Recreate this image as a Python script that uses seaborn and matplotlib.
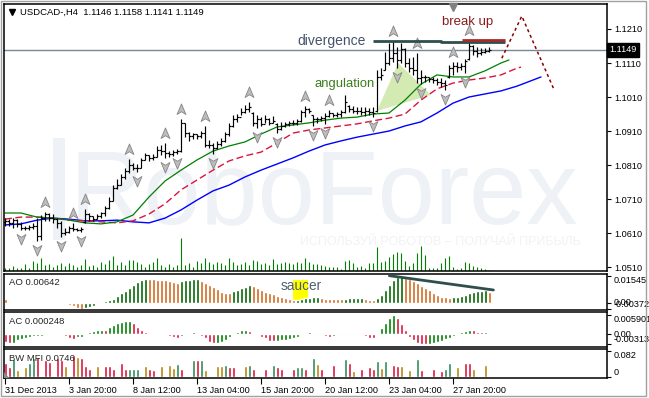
import numpy as np
import matplotlib
matplotlib.use('Agg')
import matplotlib.pyplot as plt
import matplotlib.transforms as mtransforms
from matplotlib.path import Path
from matplotlib.patches import Polygon, Rectangle
import seaborn as sns

# ---- USDCAD H4 price bars ----
bar_open = [
    1.0642, 1.0645, 1.0640, 1.0648, 1.0636, 1.0625, 1.0626, 1.0628, 1.0632, 1.0600,
    1.0655, 1.0665, 1.0655, 1.0650, 1.0640, 1.0610, 1.0612, 1.0625, 1.0622, 1.0618,
    1.0642, 1.0665, 1.0660, 1.0652, 1.0660, 1.0668, 1.0685, 1.0705, 1.0742, 1.0752,
    1.0775, 1.0792, 1.0810, 1.0800, 1.0800, 1.0825, 1.0840, 1.0830, 1.0835, 1.0855,
    1.0850, 1.0845, 1.0842, 1.0848, 1.0850, 1.0935, 1.0905, 1.0895, 1.0900, 1.0895,
    1.0905, 1.0870, 1.0868, 1.0860, 1.0872, 1.0880, 1.0900, 1.0925, 1.0945, 1.0952,
    1.0965, 1.0975, 1.0962, 1.0935, 1.0945, 1.0930, 1.0945, 1.0935, 1.0932, 1.0915,
    1.0925, 1.0930, 1.0935, 1.0935, 1.0940, 1.0965, 1.0975, 1.0956, 1.0945, 1.0945,
    1.0948, 1.0955, 1.0962, 1.0958, 1.0960, 1.0966, 1.0985, 1.0975, 1.0970, 1.0968,
    1.0965, 1.0970, 1.0965, 1.0968, 1.1070, 1.1090, 1.1110, 1.1125, 1.1140, 1.1120,
    1.1150, 1.1110, 1.1095, 1.1090, 1.1065, 1.1070, 1.1068, 1.1062, 1.1060, 1.1055,
    1.1050, 1.1068, 1.1095, 1.1100, 1.1098, 1.1100, 1.1122, 1.1160, 1.1145, 1.1140,
    1.1142, 1.1146]
bar_high = [
    1.0655, 1.0652, 1.0655, 1.0650, 1.0642, 1.0632, 1.0635, 1.0640, 1.0655, 1.0662,
    1.0672, 1.0670, 1.0665, 1.0655, 1.0645, 1.0625, 1.0632, 1.0640, 1.0625, 1.0628,
    1.0680, 1.0668, 1.0660, 1.0665, 1.0672, 1.0690, 1.0715, 1.0750, 1.0770, 1.0785,
    1.0800, 1.0828, 1.0815, 1.0812, 1.0830, 1.0845, 1.0840, 1.0842, 1.0865, 1.0868,
    1.0874, 1.0850, 1.0855, 1.0857, 1.0946, 1.0935, 1.0908, 1.0905, 1.0902, 1.0910,
    1.0925, 1.0885, 1.0875, 1.0880, 1.0890, 1.0908, 1.0935, 1.0958, 1.0960, 1.0978,
    1.0987, 1.0995, 1.0966, 1.0958, 1.0952, 1.0958, 1.0948, 1.0955, 1.0934, 1.0937,
    1.0937, 1.0940, 1.0942, 1.0945, 1.0972, 1.0985, 1.0978, 1.0958, 1.0952, 1.0955,
    1.0963, 1.0972, 1.0963, 1.0965, 1.0972, 1.1016, 1.0987, 1.0984, 1.0981, 1.0981,
    1.0981, 1.0978, 1.0981, 1.1089, 1.1095, 1.1142, 1.1169, 1.1175, 1.1157, 1.1169,
    1.1154, 1.1125, 1.1128, 1.1140, 1.1089, 1.1075, 1.1068, 1.1068, 1.1065, 1.1065,
    1.1060, 1.1104, 1.1113, 1.1113, 1.1110, 1.1122, 1.1178, 1.1163, 1.1157, 1.1154,
    1.1154, 1.1158]
bar_low = [
    1.0630, 1.0632, 1.0625, 1.0628, 1.0618, 1.0620, 1.0620, 1.0622, 1.0588, 1.0590,
    1.0645, 1.0645, 1.0640, 1.0625, 1.0598, 1.0605, 1.0610, 1.0615, 1.0615, 1.0612,
    1.0640, 1.0645, 1.0645, 1.0650, 1.0655, 1.0660, 1.0680, 1.0705, 1.0740, 1.0750,
    1.0770, 1.0788, 1.0795, 1.0790, 1.0800, 1.0825, 1.0822, 1.0825, 1.0834, 1.0840,
    1.0832, 1.0835, 1.0838, 1.0842, 1.0848, 1.0892, 1.0880, 1.0888, 1.0888, 1.0890,
    1.0862, 1.0860, 1.0842, 1.0858, 1.0866, 1.0878, 1.0895, 1.0922, 1.0938, 1.0957,
    1.0963, 1.0966, 1.0925, 1.0920, 1.0925, 1.0935, 1.0928, 1.0935, 1.0903, 1.0913,
    1.0922, 1.0925, 1.0928, 1.0928, 1.0937, 1.0952, 1.0963, 1.0925, 1.0935, 1.0940,
    1.0930, 1.0950, 1.0950, 1.0950, 1.0950, 1.0963, 1.0966, 1.0963, 1.0960, 1.0958,
    1.0955, 1.0957, 1.0950, 1.0966, 1.1060, 1.1089, 1.1104, 1.1113, 1.1095, 1.1110,
    1.1098, 1.1083, 1.1075, 1.1051, 1.1048, 1.1055, 1.1055, 1.1051, 1.1045, 1.1040,
    1.1031, 1.1066, 1.1075, 1.1083, 1.1088, 1.1080, 1.1120, 1.1134, 1.1128, 1.1134,
    1.1139, 1.1141]
bar_close = [
    1.0645, 1.0640, 1.0648, 1.0636, 1.0625, 1.0626, 1.0628, 1.0632, 1.0600, 1.0655,
    1.0665, 1.0655, 1.0650, 1.0640, 1.0610, 1.0612, 1.0625, 1.0622, 1.0618, 1.0622,
    1.0665, 1.0660, 1.0652, 1.0660, 1.0668, 1.0685, 1.0705, 1.0742, 1.0752, 1.0775,
    1.0792, 1.0810, 1.0800, 1.0800, 1.0825, 1.0840, 1.0830, 1.0835, 1.0855, 1.0850,
    1.0845, 1.0842, 1.0848, 1.0850, 1.0935, 1.0905, 1.0895, 1.0900, 1.0895, 1.0905,
    1.0870, 1.0868, 1.0860, 1.0872, 1.0880, 1.0900, 1.0925, 1.0945, 1.0952, 1.0965,
    1.0975, 1.0980, 1.0935, 1.0945, 1.0930, 1.0945, 1.0935, 1.0940, 1.0915, 1.0925,
    1.0930, 1.0935, 1.0935, 1.0940, 1.0965, 1.0975, 1.0970, 1.0945, 1.0945, 1.0948,
    1.0955, 1.0962, 1.0958, 1.0960, 1.0966, 1.0995, 1.0975, 1.0970, 1.0968, 1.0965,
    1.0970, 1.0965, 1.0962, 1.1070, 1.1075, 1.1110, 1.1125, 1.1140, 1.1120, 1.1150,
    1.1110, 1.1095, 1.1090, 1.1065, 1.1070, 1.1068, 1.1062, 1.1060, 1.1055, 1.1050,
    1.1045, 1.1095, 1.1100, 1.1098, 1.1100, 1.1115, 1.1160, 1.1145, 1.1140, 1.1142,
    1.1145, 1.1149]
tick_volume = [
    400, 400, 750, 450, 400, 1050, 400, 1500, 1150, 1900,
    900, 1050, 550, 900, 1250, 750, 1150, 900, 650, 900,
    1750, 750, 900, 650, 1400, 1050, 1650, 2250, 900, 1400,
    900, 1650, 1650, 1400, 1050, 550, 1050, 1400, 1900, 900,
    650, 1050, 650, 900, 4900, 900, 1150, 650, 1550, 1150,
    1900, 1400, 1050, 1400, 1250, 900, 1900, 1400, 900, 1050,
    1400, 900, 1650, 1550, 1050, 1250, 900, 1800, 1050, 1200,
    1400, 1250, 1050, 1400, 1250, 1900, 1400, 1050, 1050, 900,
    750, 550, 650, 550, 250, 1550, 1650, 1250, 550, 750,
    400, 1150, 1250, 3550, 1400, 1550, 2150, 2550, 2900, 2650,
    1550, 750, 1250, 2650, 3750, 2400, 400, 400, 400, 1250,
    1900, 2300, 550, 250, 400, 1400, 1150, 750, 550, 400,
    250, 150]

# fractal bars
fractal_up = [10, 17, 20, 31, 40, 44, 50, 61, 75, 81, 97, 103, 112, 116]
fractal_down = [4, 8, 14, 19, 33, 40, 43, 52, 63, 68, 77, 80, 92, 98, 104, 110, 115]

# Alligator, read every 4 bars (lines run past the last bar)
jaw_idx = list(range(0, 133, 4)) + [134]
jaw = [1.0634, 1.0637, 1.0648, 1.0654, 1.0651, 1.0646, 1.0646, 1.0648, 1.0643, 1.0640,
       1.0654, 1.0678, 1.0707, 1.0734, 1.0751, 1.0775, 1.0795, 1.0813, 1.0831, 1.0851,
       1.0869, 1.0881, 1.0892, 1.0901, 1.0910, 1.0925, 1.0937, 1.0963, 1.0992, 1.1010,
       1.1019, 1.1028, 1.1042, 1.1060, 1.1069]
teeth_idx = list(range(0, 129, 4)) + [129]
teeth = [1.0651, 1.0657, 1.0657, 1.0654, 1.0648, 1.0646, 1.0643, 1.0640, 1.0646, 1.0666,
         1.0696, 1.0737, 1.0766, 1.0795, 1.0822, 1.0837, 1.0848, 1.0875, 1.0904, 1.0913,
         1.0919, 1.0925, 1.0931, 1.0940, 1.0948, 1.0960, 1.1001, 1.1034, 1.1051, 1.1060,
         1.1066, 1.1075, 1.1095, 1.1098]
lips_idx = list(range(0, 125, 4)) + [126]
lips = [1.0669, 1.0669, 1.0657, 1.0654, 1.0648, 1.0640, 1.0637, 1.0643, 1.0663, 1.0716,
        1.0763, 1.0795, 1.0825, 1.0851, 1.0866, 1.0878, 1.0901, 1.0922, 1.0928, 1.0934,
        1.0942, 1.0948, 1.0951, 1.0960, 1.0963, 1.1001, 1.1048, 1.1075, 1.1069, 1.1069,
        1.1087, 1.1110, 1.1119]

# Awesome Oscillator (x 0.001)
ao = [2.32, 0.58, -0.29, -0.41, -0.52, -0.58, -0.69, -0.75, -0.81, -0.87,
      -0.81, -0.75, -0.64, -0.58, -0.46, -0.87, -1.45, -2.03, -2.90, -3.72,
      -3.20, -2.32, -1.74, -0.87, 0.29, 0.87, 1.45, 2.32, 3.76, 5.50,
      6.95, 8.69, 10.42, 12.16, 13.14, 13.55, 13.49, 13.43, 13.32, 13.20,
      13.03, 12.74, 12.16, 11.58, 12.45, 13.03, 13.32, 13.49, 13.72, 12.74,
      11.17, 10.25, 9.26, 7.93, 6.37, 5.79, 5.62, 6.95, 7.35, 8.28,
      9.26, 10.42, 9.67, 8.28, 7.35, 6.37, 5.38, 5.04, 3.88, 3.07,
      2.49, 1.91, 1.56, 1.62, 1.91, 2.49, 2.90, 3.07, 3.18, 2.49,
      2.26, 2.14, 2.08, 2.03, 1.97, 2.32, 2.43, 2.49, 2.55, 2.61,
      2.03, 1.74, 1.62, 2.49, 4.46, 7.35, 10.25, 13.14, 15.05, 15.45,
      14.07, 13.49, 12.74, 11.17, 9.67, 8.28, 7.35, 5.38, 4.46, 3.47,
      3.07, 2.49, 3.07, 3.47, 3.88, 4.46, 5.79, 6.37, 6.66, 6.95,
      7.53, 6.42]

# Accelerator Oscillator (x 0.001)
ac = [-2.39, -2.89, -2.80, -1.86, -1.55, -1.15, -0.84, -0.62, -0.59, -0.53,
      -0.31, -0.09, 0.16, 0.09, 0.31, -0.62, -1.15, -1.65, -1.02, -0.84,
      -0.31, 0.53, 1.02, 1.24, 1.34, 1.15, 2.08, 2.80, 3.32, 3.82,
      4.04, 4.10, 3.32, 2.27, 1.24, 0.71, 0.22, 0.09, -0.09, 0.06,
      -0.40, -0.62, -1.02, -1.34, -0.62, -0.22, 0.22, 0.53, 0.22, -0.62,
      -1.34, -2.39, -2.89, -2.80, -2.58, -1.86, -0.84, -0.09, 0.53, 1.24,
      1.30, 0.93, 0.40, -0.40, -0.84, -1.34, -2.08, -2.17, -2.11, -1.86,
      -1.80, -1.55, -1.34, -0.84, -0.40, 0.40, 0.53, 0.22, 0.16, -0.31,
      -0.62, -1.02, -0.62, -0.40, -0.22, 0.22, 0.25, 0.28, 0.16, -0.31,
      -0.62, -1.15, -1.18, -0.09, 1.77, 3.51, 4.88, 5.901, 4.88, 3.11,
      1.24, -0.84, -1.86, -2.70, -3.11, -3.13, -3.04, -2.89, -2.39, -2.08,
      -1.65, -1.34, -0.62, 0.22, 0.53, 0.93, 1.24, 1.18, 0.71, 0.62,
      0.68, 0.248]

# BW Market Facilitation Index (x 0.001) and bar state
mfi = [44.5, 31.8, 57.2, 22.2, 25.4, 31.8, 44.5, 60.4, 63.6, 79.5,
       54.0, 47.7, 79.5, 60.4, 54.0, 35.0, 79.5, 69.9, 63.6, 60.4,
       35.0, 25.4, 54.0, 35.0, 54.0, 35.0, 35.0, 25.4, 54.0, 44.5,
       25.4, 25.4, 25.4, 25.4, 35.0, 35.0, 25.4, 22.2, 60.4, 35.0,
       60.4, 38.1, 28.6, 41.3, 25.4, 25.4, 41.3, 54.0, 54.0, 54.0,
       22.2, 50.8, 57.2, 35.0, 35.0, 38.1, 31.8, 31.8, 25.4, 54.0,
       35.0, 38.1, 25.4, 35.0, 47.7, 25.4, 25.4, 38.1, 31.8, 25.4,
       44.5, 54.0, 25.4, 31.8, 31.8, 25.4, 25.4, 60.4, 41.3, 25.4,
       31.8, 54.0, 38.1, 38.1, 47.7, 57.2, 44.5, 19.1, 35.0, 25.4,
       47.7, 31.8, 25.4, 50.8, 28.6, 50.8, 63.6, 38.1, 35.0, 35.0,
       44.5, 22.2, 47.7, 57.2, 22.2, 19.1, 35.0, 25.4, 47.7, 19.1,
       25.4, 44.5, 47.7, 31.8, 82.0, 44.5, 44.5, 25.4, 31.8, 41.3,
       38.1, 74.6]
mfi_state = list(
    "CCGYBYGGCBCCBCCYBCYCCCBYBCCCBCCGGGBYCCBY"
    "BYYGCBBGCGYBBYYGCCBBYGCBBCBGCCBBCGGCBGYC"
    "BBCBBGCYBCBCCGYGBCCYBYBGCBBCBCGGBYBCCYBB"
    "YB")

xtick_pos = [0, 16, 32, 48, 64, 80, 96, 112]
xtick_labels = ['31 Dec 2013', '3 Jan 20:00', '8 Jan 12:00', '13 Jan 04:00',
                '15 Jan 20:00', '20 Jan 12:00', '23 Jan 04:00', '27 Jan 20:00']
price_ticks = [1.0510, 1.0610, 1.0710, 1.0810, 1.0910, 1.1010, 1.1110, 1.1210]
last_price = 1.1149

# analyst drawings
divergence_line = ([92, 109, 109, 125], [1.1174, 1.1174, 1.1171, 1.1171])
breakup_line = ([114.2, 125], [1.1179, 1.1179])
forecast_path = ([124.2, 129.2, 137.1], [1.1124, 1.1248, 1.1036])
angulation_tri = [(93, 1.0969), (98.3, 1.1110), (106.5, 1.1016)]
ao_divergence = ([96.1, 122.1], [0.01563, 0.00735])

# ---------------------------------------------------------------------------
sns.set_theme(style="white")
plt.rcParams['font.family'] = ['Liberation Sans', 'DejaVu Sans']

W, H = 649, 398


def frame(left, top, right, bottom):
    return [left / W, 1 - bottom / H, (right - left) / W, (bottom - top) / H]


fig = plt.figure(figsize=(W / 100, H / 100), dpi=100)
fig.patch.set_facecolor('white')

vol_ax = fig.add_axes(frame(4, 4, 607, 271), zorder=0)
ax = fig.add_axes(frame(4, 4, 607, 271), zorder=1)
ax.patch.set_visible(False)
ax_ao = fig.add_axes(frame(4, 273.5, 607, 309.5))
ax_ac = fig.add_axes(frame(4, 311.5, 607, 346.5))
ax_mfi = fig.add_axes(frame(4, 348.5, 607, 378))

XLIM = (-0.25, 150.5)
idx = np.arange(len(bar_close))
TICK_FS = 6.6
WM_COLOR = '#EEF1F5'

# volumes + watermark behind the price chart
vol_ax.axis('off')
vol_ax.set_xlim(*XLIM)
vol_ax.set_ylim(0, 40050)
vol_ax.vlines(idx, 0, tick_volume, color='#008000', lw=0.8)
vol_ax.add_patch(Rectangle((0.081, 0.115), 0.02, 0.385, transform=vol_ax.transAxes,
                           facecolor=WM_COLOR, edgecolor='none'))
vol_ax.text(0.109, 0.18, 'RoboForex', transform=vol_ax.transAxes, fontsize=74,
            color=WM_COLOR, ha='left', va='baseline')
vol_ax.text(0.491, 0.109, 'ИСПОЛЬЗУЙ РОБОТОВ – ПОЛУЧАЙ ПРИБЫЛЬ',
            transform=vol_ax.transAxes, fontsize=9, color='#F0F2F5',
            ha='left', va='center')

# main chart
ax.set_xlim(*XLIM)
ax.set_ylim(1.04985, 1.12835)
ax.add_patch(Polygon(angulation_tri, closed=True, facecolor='#D3EAB2',
                     edgecolor='none', zorder=1))
ax.axhline(last_price, color='#7A8896', lw=1, zorder=1.5)

sns.lineplot(x=jaw_idx, y=jaw, ax=ax, color='#0000FF', linewidth=1,
             errorbar=None, zorder=2)
sns.lineplot(x=teeth_idx, y=teeth, ax=ax, color='#DC143C', linewidth=1,
             linestyle=(0, (5, 2.5)), errorbar=None, zorder=2)
sns.lineplot(x=lips_idx, y=lips, ax=ax, color='#008000', linewidth=0.9,
             errorbar=None, zorder=2)

ax.vlines(idx, bar_low, bar_high, color='black', lw=0.85, zorder=4)
ax.hlines(bar_open, idx - 0.4, idx, color='black', lw=0.85, zorder=4)
ax.hlines(bar_close, idx, idx + 0.4, color='black', lw=0.85, zorder=4)

up_arrow = Path([(0, 1), (0.8, -0.9), (0, -0.4), (-0.8, -0.9), (0, 1)],
                [Path.MOVETO, Path.LINETO, Path.LINETO, Path.LINETO, Path.CLOSEPOLY])
down_arrow = Path([(0, -1), (0.8, 0.9), (0, 0.4), (-0.8, 0.9), (0, -1)],
                  [Path.MOVETO, Path.LINETO, Path.LINETO, Path.LINETO, Path.CLOSEPOLY])
up_tr = mtransforms.offset_copy(ax.transData, fig=fig, y=10, units='dots')
down_tr = mtransforms.offset_copy(ax.transData, fig=fig, y=-9, units='dots')
ax.plot(fractal_up, [bar_high[i] for i in fractal_up], ls='none', marker=up_arrow,
        ms=8, mfc='#BDBDBD', mec='#858585', mew=0.6, transform=up_tr, zorder=5)
ax.plot(fractal_down, [bar_low[i] for i in fractal_down], ls='none', marker=down_arrow,
        ms=8, mfc='#BDBDBD', mec='#858585', mew=0.6, transform=down_tr, zorder=5)

ax.plot(*divergence_line, color='#2F4F4F', lw=2, zorder=6, solid_capstyle='butt')
ax.plot(*breakup_line, color='#A52A2A', lw=2, zorder=6, solid_capstyle='butt')
ax.plot(*forecast_path, color='#8B0000', lw=1.1, ls=(0, (2, 2)), zorder=6, clip_on=False)
ax.text(81.75, 1.1175, 'divergence', color='#44546A', fontsize=10,
        ha='center', va='center', zorder=6)
ax.text(115.75, 1.1231, 'break up', color='#8B1A1A', fontsize=9.5,
        ha='center', va='center', zorder=6)
ax.text(85.0, 1.1048, 'angulation', color='#3A7F1A', fontsize=9.4,
        ha='center', va='center', zorder=6)

ax.plot([0.0133], [0.970], marker='v', ms=4, color='black', transform=ax.transAxes)
ax.text(0.0265, 0.970, 'USDCAD-,H4  1.1146 1.1158 1.1141 1.1149',
        transform=ax.transAxes, fontsize=6.8, color='black', ha='left', va='center')
ax.plot([0.7446], [0.9906], marker='v', ms=6, color='#808080',
        transform=ax.transAxes, clip_on=False, zorder=7)

ax.yaxis.tick_right()
ax.set_yticks(price_ticks, [f'{p:.4f}' for p in price_ticks])
ax.set_xticks([])
price_tr = mtransforms.blended_transform_factory(ax.transAxes, ax.transData)
ax.text(1.0035, last_price, f'{last_price:.4f}', transform=price_tr, color='white',
        fontsize=TICK_FS, ha='left', va='center', zorder=8,
        bbox=dict(boxstyle='square,pad=0.25', facecolor='black', edgecolor='black'))

# AO
ao_vals = np.array(ao) * 1e-3
ao_colors = ['#006400' if i > 0 and ao_vals[i] > ao_vals[i - 1] else '#D2691E'
             for i in range(len(ao_vals))]
ax_ao.set_xlim(*XLIM)
ax_ao.set_ylim(-0.00394, 0.0169)
ax_ao.add_patch(Rectangle((71.9, 0.00156), 3.9, 0.01158, facecolor='#FFFF00',
                          edgecolor='none', zorder=1))
ax_ao.bar(idx, ao_vals, width=0.75, color=ao_colors, zorder=2)
ax_ao.plot(*ao_divergence, color='#2F4F4F', lw=2, zorder=3)
ax_ao.text(74.1, 0.00966, 'saucer', color='#4F5E6B', fontsize=9.8,
           ha='center', va='center', zorder=4)
ax_ao.text(0.0088, 0.744, 'AO 0.00642', transform=ax_ao.transAxes, fontsize=6.8,
           ha='left', va='center')
ax_ao.yaxis.tick_right()
ax_ao.set_yticks([-0.00372, 0.0, 0.01545], ['-0.00372', '0.00', '0.01545'])
for lbl, va in zip(ax_ao.get_yticklabels(), ['bottom', 'center', 'top']):
    lbl.set_va(va)
ax_ao.set_xticks([])

# AC
ac_vals = np.array(ac) * 1e-3
ac_colors = ['#008000' if i > 0 and ac_vals[i] > ac_vals[i - 1] else '#DC143C'
             for i in range(len(ac_vals))]
ax_ac.set_xlim(*XLIM)
ax_ac.set_ylim(-0.00388, 0.00699)
ax_ac.bar(idx, ac_vals, width=0.75, color=ac_colors)
ax_ac.text(0.0088, 0.709, 'AC 0.000248', transform=ax_ac.transAxes, fontsize=6.8,
           ha='left', va='center')
ax_ac.yaxis.tick_right()
ax_ac.set_yticks([-0.00313, 0.0, 0.005901], ['-0.00313', '0.00', '0.005901'])
for lbl, va in zip(ax_ac.get_yticklabels(), ['bottom', 'center', 'top']):
    lbl.set_va(va)
ax_ac.set_xticks([])

# BW MFI
state_color = {'G': '#2E8B57', 'Y': '#B8860B', 'C': '#DC143C', 'B': '#0000FF'}
mfi_vals = np.array(mfi) * 1e-3
wide = np.array([s != 'B' for s in mfi_state])
ax_mfi.set_xlim(*XLIM)
ax_mfi.set_ylim(-0.0022, 0.0915)
ax_mfi.bar(idx[wide], mfi_vals[wide], width=0.75,
           color=[state_color[s] for s in mfi_state if s != 'B'])
ax_mfi.bar(idx[~wide], mfi_vals[~wide], width=0.25, color='#0000FF')
ax_mfi.text(0.0088, 0.668, 'BW MFI 0.0746', transform=ax_mfi.transAxes, fontsize=6.8,
            ha='left', va='center')
ax_mfi.add_patch(Polygon([(0, 0), (0.009, 0), (0, 0.2)], closed=True,
                         transform=ax_mfi.transAxes, facecolor='#8A8A8A',
                         edgecolor='none', zorder=5))
ax_mfi.yaxis.tick_right()
ax_mfi.set_yticks([0.0, 0.082], ['0', '0.082'])
for lbl, va in zip(ax_mfi.get_yticklabels(), ['bottom', 'top']):
    lbl.set_va(va)
ax_mfi.set_xticks(xtick_pos, xtick_labels)
for lbl in ax_mfi.get_xticklabels():
    lbl.set_ha('left')

for a in (ax, ax_ao, ax_ac, ax_mfi):
    for sp in a.spines.values():
        sp.set_color('black')
        sp.set_linewidth(1.1)
    a.tick_params(axis='y', which='both', direction='out', length=3, width=0.8,
                  color='black', labelsize=TICK_FS, labelcolor='black', pad=2,
                  right=True, left=False)
    a.grid(False)
ax_mfi.tick_params(axis='x', direction='out', length=4, width=0.8, color='black',
                   labelsize=TICK_FS, labelcolor='black', pad=1.5, bottom=True)

fig.add_artist(Rectangle((0.5 / W, 1 - 395.5 / H), 645 / W, 395 / H,
                         transform=fig.transFigure, fill=False,
                         edgecolor='#A0A0A0', lw=1))

fig.savefig('out.png', dpi=100, facecolor='white')
